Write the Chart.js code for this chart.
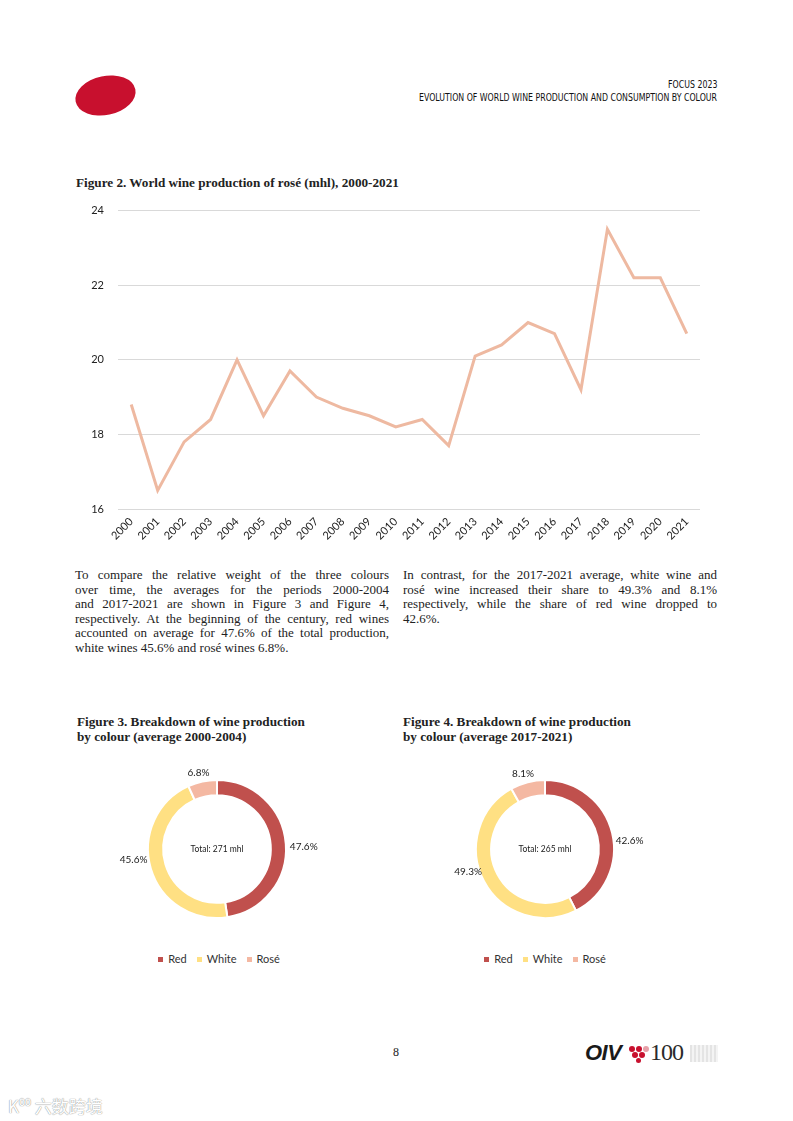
<!DOCTYPE html>
<html>
<head>
<meta charset="utf-8">
<script src="https://cdn.jsdelivr.net/npm/chart.js@4.4.1/dist/chart.umd.min.js"></script>
<style>
  body { margin: 0; background: #fff; }
  #page { position: relative; width: 793px; height: 1121px; overflow: hidden; background: #fff; }
  .abs { position: absolute; }
  .logo { left: 75px; top: 76px; width: 61px; height: 39px; border-radius: 50%; background: #c8102e; transform: rotate(-12deg); }
  .head { right: 76px; text-align: right; font-family: "Liberation Sans Narrow", "DejaVu Sans Condensed", sans-serif; font-size: 10.5px; color: #111; white-space: nowrap;
          transform: scaleX(0.83); transform-origin: right center; }
  .ftitle { font-family: "Liberation Serif", serif; font-weight: bold; font-size: 13.2px; color: #222; line-height: 15px; white-space: nowrap; }
  .body { font-family: "Liberation Serif", serif; font-size: 13px; line-height: 14.6px; color: #222; width: 314px; }
  .body div { text-align: justify; text-align-last: justify; white-space: nowrap; }
  .body div.last { text-align-last: left; }
  .legend { font-family: Lato, sans-serif; font-size: 11px; color: #333; white-space: nowrap; }
  .legend span.box { display: inline-block; width: 5px; height: 5px; margin: 0 5px 1px 0; vertical-align: middle; }
  .legend span.item { margin: 0 5px; }
</style>
</head>
<body>
<div id="page">
  <div class="abs logo"></div>
  <div class="abs head" style="top:78px">FOCUS 2023</div>
  <div class="abs head" style="top:91px">EVOLUTION OF WORLD WINE PRODUCTION AND CONSUMPTION BY COLOUR</div>

  <div class="abs ftitle" style="left:76px;top:175px">Figure 2. World wine production of rosé (mhl), 2000-2021</div>
  <div class="abs" style="left:75px;top:190px;width:635px;height:359px"><canvas id="lineChart"></canvas></div>

  <div class="abs body" style="left:75px;top:568px">
    <div>To compare the relative weight of the three colours</div>
    <div>over time, the averages for the periods 2000-2004</div>
    <div>and 2017-2021 are shown in Figure 3 and Figure 4,</div>
    <div>respectively. At the beginning of the century, red wines</div>
    <div>accounted on average for 47.6% of the total production,</div>
    <div class="last">white wines 45.6% and rosé wines 6.8%.</div>
  </div>
  <div class="abs body" style="left:403px;top:568px">
    <div>In contrast, for the 2017-2021 average, white wine and</div>
    <div>rosé wine increased their share to 49.3% and 8.1%</div>
    <div>respectively, while the share of red wine dropped to</div>
    <div class="last">42.6%.</div>
  </div>

  <div class="abs ftitle" style="left:77px;top:714px">Figure 3. Breakdown of wine production<br>by colour (average 2000-2004)</div>
  <div class="abs ftitle" style="left:403px;top:714px">Figure 4. Breakdown of wine production<br>by colour (average 2017-2021)</div>

  <div class="abs" style="left:87px;top:749px;width:260px;height:200px"><canvas id="pie1"></canvas></div>
  <div class="abs" style="left:415px;top:749px;width:260px;height:200px"><canvas id="pie2"></canvas></div>
  <div class="abs legend" id="leg1" style="left:89px;width:260px;top:952px;text-align:center"></div>
  <div class="abs legend" id="leg2" style="left:415px;width:260px;top:952px;text-align:center"></div>

  <div class="abs" style="left:393px;top:1045px;font-family:'Liberation Serif',serif;font-size:12px;color:#222">8</div>
  <div class="abs" style="left:585px;top:1040px;font-family:'Liberation Sans',sans-serif;font-weight:bold;font-style:italic;font-size:22px;color:#1a1a1a;letter-spacing:-0.5px">OIV</div>
  <div class="abs" style="left:629px;top:1046px;width:6px;height:6px;border-radius:50%;background:#c8102e"></div>
  <div class="abs" style="left:636px;top:1046px;width:6px;height:6px;border-radius:50%;background:#c8102e"></div>
  <div class="abs" style="left:643px;top:1046px;width:6px;height:6px;border-radius:50%;background:#e7a0a8"></div>
  <div class="abs" style="left:632px;top:1052px;width:6px;height:6px;border-radius:50%;background:#c8102e"></div>
  <div class="abs" style="left:639px;top:1052px;width:6px;height:6px;border-radius:50%;background:#c8102e"></div>
  <div class="abs" style="left:636px;top:1058px;width:5px;height:5px;border-radius:50%;background:#c8102e"></div>
  <div class="abs" style="left:650px;top:1039px;font-family:'Liberation Serif',serif;font-size:24px;color:#2a2a2a;letter-spacing:-1px">100</div>
  <div class="abs" style="left:690px;top:1045px;width:28px;height:17px;background:repeating-linear-gradient(90deg,#e4e4e4 0 2px,#f4f4f4 2px 4px)"></div>
  <div class="abs" style="left:8px;top:1093px;font-family:'Noto Sans CJK SC',sans-serif;font-size:17px;color:#fff;text-shadow:0 0 1px #999,0 0 1px #999">K⁰⁰ 六数跨境</div>
</div>

<script>
// Figure 2 - rosé production (mhl)
const years = ['2000','2001','2002','2003','2004','2005','2006','2007','2008','2009','2010',
               '2011','2012','2013','2014','2015','2016','2017','2018','2019','2020','2021'];
const roseProduction = [18.8, 16.5, 17.8, 18.4, 20.0, 18.5, 19.7, 19.0, 18.7, 18.5, 18.2,
                        18.4, 17.7, 20.1, 20.4, 21.0, 20.7, 19.2, 23.5, 22.2, 22.2, 20.7];
const yTicks = [16, 18, 20, 22, 24];

// Figures 3 and 4 - share by colour
const colours = ['Red', 'White', 'Rosé'];
const share2000_2004 = [47.6, 45.6, 6.8];
const share2017_2021 = [42.6, 49.3, 8.1];
const totals = ['Total: 271 mhl', 'Total: 265 mhl'];

const colourFill = ['#c0504d', '#ffe083', '#f4b8a2'];
const FONT = 'Lato, "Open Sans", sans-serif';

new Chart(document.getElementById('lineChart'), {
  type: 'line',
  data: {
    labels: years,
    datasets: [{
      data: roseProduction,
      borderColor: '#eeb9a1',
      borderWidth: 3,
      pointRadius: 0,
      tension: 0,
      fill: false
    }]
  },
  options: {
    responsive: true,
    maintainAspectRatio: false,
    animation: false,
    layout: { padding: { top: 0, right: 10, left: 0, bottom: 0 } },
    plugins: { legend: { display: false }, tooltip: { enabled: false } },
    scales: {
      x: {
        offset: true,
        grid: { display: false, drawTicks: false },
        border: { display: false },
        ticks: { maxRotation: 45, minRotation: 45, padding: 6, color: '#222', font: { family: FONT, size: 11 } },
        afterFit: s => { s.height = 40; }
      },
      y: {
        min: 16, max: 24,
        afterBuildTicks: s => { s.ticks = yTicks.map(v => ({ value: v })); },
        grid: { color: '#d9d9d9', drawTicks: false },
        border: { display: false },
        ticks: { padding: 14, color: '#222', font: { family: FONT, size: 11 } },
        afterFit: s => { s.width = 43; }
      }
    }
  }
});

// labels outside the ring (flattened vertically, like the original) + total in the centre
const donutLabels = {
  id: 'donutLabels',
  afterDatasetsDraw(chart, args, opts) {
    const ctx = chart.ctx;
    const meta = chart.getDatasetMeta(0);
    ctx.save();
    ctx.fillStyle = '#222';
    ctx.textAlign = 'center';
    ctx.textBaseline = 'middle';
    ctx.font = '10px ' + FONT;
    meta.data.forEach((arc, i) => {
      const p = arc.getProps(['x', 'y', 'startAngle', 'endAngle', 'outerRadius'], true);
      const a = (p.startAngle + p.endAngle) / 2;
      const s = Math.sin(a);
      const lx = p.x + Math.cos(a) * (p.outerRadius + 18);
      const ly = p.y + s * (p.outerRadius + 10) * (0.3 + 0.7 * Math.abs(s));
      ctx.fillText(chart.data.datasets[0].data[i].toFixed(1) + '%', lx, ly);
    });
    const c = meta.data[0];
    ctx.font = '8.5px ' + FONT;
    ctx.fillText(opts.total, c.x, c.y);
    ctx.restore();
  }
};

function donut(id, legId, values, total) {
  new Chart(document.getElementById(id), {
    type: 'doughnut',
    data: {
      labels: colours,
      datasets: [{ data: values, backgroundColor: colourFill, borderColor: '#fff', borderWidth: 2 }]
    },
    options: {
      responsive: true,
      maintainAspectRatio: false,
      animation: false,
      cutout: '78%',
      layout: { padding: { top: 30, bottom: 30, left: 60, right: 60 } },
      plugins: { legend: { display: false }, tooltip: { enabled: false }, donutLabels: { total: total } }
    },
    plugins: [donutLabels]
  });
  document.getElementById(legId).innerHTML = colours.map((c, i) =>
    '<span class="item"><span class="box" style="background:' + colourFill[i] + '"></span>' + c + '</span>').join('');
}

donut('pie1', 'leg1', share2000_2004, totals[0]);
donut('pie2', 'leg2', share2017_2021, totals[1]);
</script>
</body>
</html>
